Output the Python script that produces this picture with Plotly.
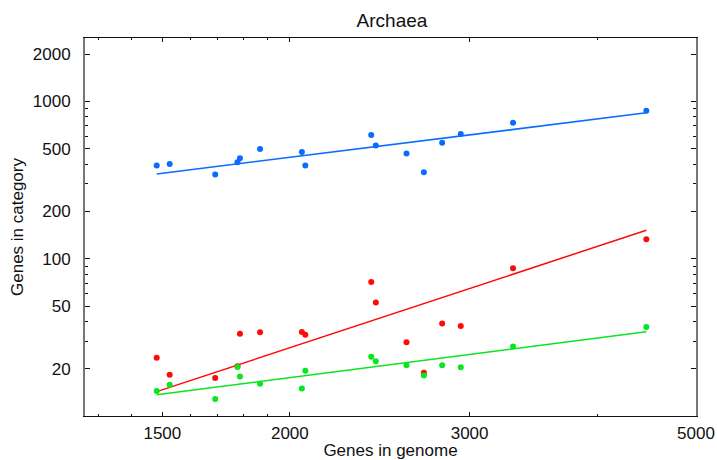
import plotly.graph_objects as go

# Data
genome = [1481, 1525, 1690, 1777, 1787, 1870, 2055, 2071, 2403, 2428, 2602, 2706, 2820, 2941, 3309, 4470]
blue_vals = [392, 401, 343, 411, 436, 498, 478, 392, 611, 525, 467, 355, 546, 622, 731, 871]
red_vals = [23.6, 18.4, 17.5, 20.8, 33.5, 34.2, 34.3, 33.0, 71.3, 52.8, 29.5, 18.9, 38.8, 37.5, 87.1, 133.2]
green_vals = [14.5, 15.9, 12.9, 20.6, 17.9, 16.1, 15.0, 19.5, 23.9, 22.4, 21.1, 18.2, 21.1, 20.5, 27.8, 36.9]

fit_x = [1481, 4470]
blue_fit = [346, 846]
red_fit = [14.35, 152]
green_fit = [13.7, 34.5]

x_ticks = [1500, 2000, 3000, 5000]
x_minor = [1300, 1400, 1600, 1700, 1800, 1900, 4000]
y_ticks = [20, 50, 100, 200, 500, 1000, 2000]
y_minor = [30, 40, 60, 70, 80, 90, 300, 400, 600, 700, 800, 900]

BLUE = "#0a6cff"
RED = "#ff0a0a"
GREEN = "#0ae61e"

fig = go.Figure()
for fit, col in [(blue_fit, BLUE), (red_fit, RED), (green_fit, GREEN)]:
    fig.add_trace(go.Scatter(x=fit_x, y=fit, mode="lines", line=dict(color=col, width=1.5),
                             showlegend=False, hoverinfo="skip"))
for vals, col in [(blue_vals, BLUE), (red_vals, RED), (green_vals, GREEN)]:
    fig.add_trace(go.Scatter(x=genome, y=vals, mode="markers",
                             marker=dict(color=col, size=6, line=dict(width=0)),
                             showlegend=False))

font_family = "Liberation Sans, Arial, sans-serif"
fig.update_layout(
    width=717, height=460,
    margin=dict(l=85, r=21, t=38, b=44),
    paper_bgcolor="white", plot_bgcolor="white",
    font=dict(family=font_family, size=17, color="#111"),
    title=dict(text="Archaea", x=392 / 717, xanchor="center",
               y=1 - 20 / 460, yanchor="middle", font=dict(size=19, color="#111")),
)
fig.update_xaxes(
    type="log", range=[3.1003, 3.69897], automargin=False,
    tickvals=x_ticks, ticktext=[str(v) for v in x_ticks],
    ticks="inside", ticklen=4, tickwidth=1, tickcolor="#111",
    minor=dict(tickvals=x_minor, ticks="inside", ticklen=2, tickwidth=1, tickcolor="#111"),
    showline=True, linecolor="#111", linewidth=1.2, mirror="allticks",
    showgrid=False, zeroline=False,
    title=dict(text="Genes in genome", standoff=3, font=dict(size=17)),
    ticklabelstandoff=1,
)
fig.update_yaxes(
    type="log", range=[1.0022, 3.4027], automargin=False,
    tickvals=y_ticks, ticktext=[str(v) for v in y_ticks],
    ticks="inside", ticklen=5, tickwidth=1, tickcolor="#111",
    minor=dict(tickvals=y_minor, ticks="inside", ticklen=3, tickwidth=1, tickcolor="#111"),
    showline=True, linecolor="#777", linewidth=2, mirror="allticks",
    showgrid=False, zeroline=False,
    title=dict(text="Genes in category", standoff=5, font=dict(size=17)),
    ticklabelstandoff=9,
)

fig.write_html("out.html", config={"displayModeBar": False},
               post_script="document.body.style.margin='0';")
